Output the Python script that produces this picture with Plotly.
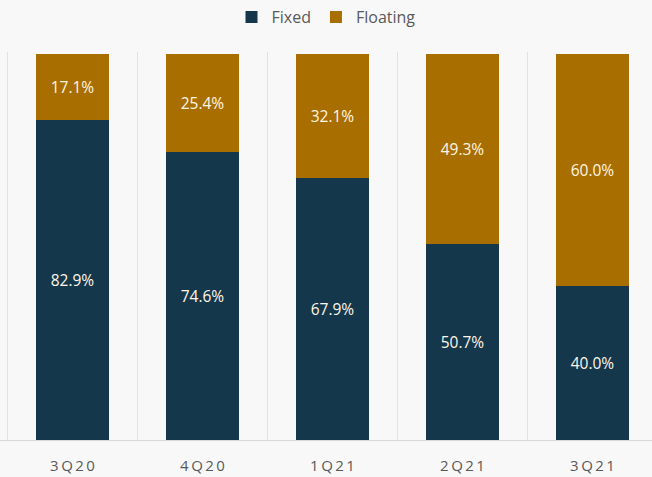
import plotly.graph_objects as go

categories = ["3Q20", "4Q20", "1Q21", "2Q21", "3Q21"]
fixed = [82.9, 74.6, 67.9, 50.7, 40.0]
floating = [17.1, 25.4, 32.1, 49.3, 60.0]

xs = list(range(len(categories)))
label_font = dict(color="#FFF6E6", size=15.5, family="Open Sans")

fig = go.Figure()
fig.add_trace(go.Bar(
    x=xs, y=fixed, name="Fixed", marker_color="#15374B",
    text=[f"{v:.1f}%" for v in fixed], textposition="inside", insidetextanchor="middle",
    textfont=label_font, width=0.56, marker_line_width=0,
))
fig.add_trace(go.Bar(
    x=xs, y=floating, name="Floating", marker_color="#A86F00",
    text=[f"{v:.1f}%" for v in floating], textposition="inside", insidetextanchor="middle",
    textfont=label_font, width=0.56, marker_line_width=0,
))

fig.update_layout(
    barmode="stack",
    width=652, height=477,
    margin=dict(l=0, r=0, t=52, b=37),
    paper_bgcolor="#F8F8F8",
    plot_bgcolor="#F8F8F8",
    font=dict(family="Open Sans", color="#595959"),
    showlegend=True,
    legend=dict(orientation="h", x=0.5, xanchor="center", y=1.0, yanchor="top",
                yref="container", font=dict(size=16, color="#595959"),
                itemwidth=30, traceorder="normal"),
    uniformtext=dict(minsize=8, mode="show"),
)

fig.update_xaxes(
    range=[-72.5 / 130, -72.5 / 130 + 652 / 130],
    tickmode="array", tickvals=xs, ticktext=["\u2009".join(c) for c in categories],
    tickfont=dict(size=15, color="#595959"),
    ticklabelstandoff=12,
    showgrid=False, zeroline=False,
    showline=True, linecolor="#D9D9D9", linewidth=1,
    ticks="", ticklen=0,
    minor=dict(tickvals=[i - 0.5 for i in range(len(categories) + 1)], showgrid=True,
               gridcolor="#E2E2E2", gridwidth=1),
)
fig.update_yaxes(range=[0, 100.5], showgrid=False, zeroline=False, showticklabels=False,
                 showline=False)

fig.write_html("out.html")
